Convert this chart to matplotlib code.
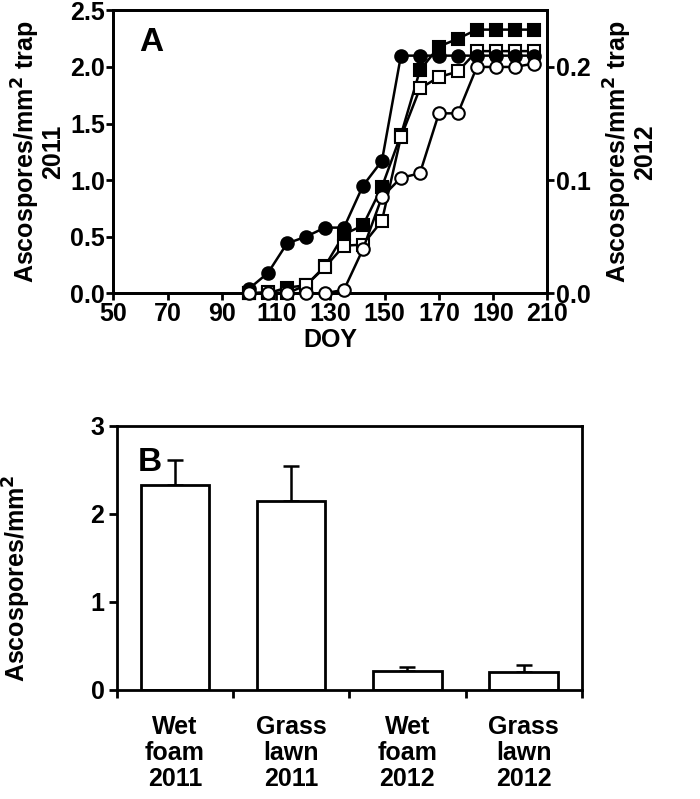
import numpy as np
import matplotlib.pyplot as plt
from matplotlib.ticker import FormatStrFormatter

plt.rcParams['font.family'] = ['Liberation Sans', 'DejaVu Sans']
plt.rcParams['font.weight'] = 'bold'

# panel A: cumulative ascospores, weekly sampling (DOY)
doy = [100, 107, 114, 121, 128, 135, 142, 149, 156, 163, 170, 177, 184, 191, 198, 205]
# 2011 (left axis)
wet_foam_2011 = [0.0, 0.0, 0.05, 0.07, 0.24, 0.52, 0.60, 0.94, 1.40, 1.97, 2.18, 2.25, 2.33, 2.33, 2.33, 2.33]
grass_lawn_2011 = [0.0, 0.01, 0.0, 0.07, 0.23, 0.42, 0.43, 0.64, 1.38, 1.81, 1.91, 1.96, 2.14, 2.14, 2.14, 2.14]
# 2012 (right axis)
wet_foam_2012 = [0.004, 0.018, 0.044, 0.050, 0.058, 0.058, 0.095, 0.117, 0.210, 0.210, 0.210, 0.210, 0.210, 0.210, 0.210, 0.210]
grass_lawn_2012 = [0.0, 0.0, 0.0, 0.0, 0.0, 0.003, 0.039, 0.085, 0.102, 0.106, 0.159, 0.159, 0.200, 0.200, 0.200, 0.203]

# panel B: totals
groups = ["Wet\nfoam\n2011", "Grass\nlawn\n2011", "Wet\nfoam\n2012", "Grass\nlawn\n2012"]
totals = [2.33, 2.14, 0.21, 0.20]
errors = [0.28, 0.40, 0.05, 0.08]

fs = 18
fig = plt.figure(figsize=(7, 7.99), dpi=100)

axA = fig.add_axes([0.162, 0.633, 0.620, 0.354])
axA2 = axA.twinx()

kw = dict(color='black', lw=1.8, ms=9, mew=1.5, mec='black', clip_on=False)
axA.plot(doy, wet_foam_2011, marker='s', mfc='black', zorder=3, **kw)
axA.plot(doy, grass_lawn_2011, marker='s', mfc='white', zorder=4, **kw)
axA2.plot(doy, wet_foam_2012, marker='o', mfc='black', zorder=5, **kw)
axA2.plot(doy, grass_lawn_2012, marker='o', mfc='white', zorder=6, **kw)

axA.set_xlim(50, 210)
axA.set_ylim(0, 2.5)
axA2.set_ylim(0, 0.25)
axA.set_xticks(np.arange(50, 211, 20))
axA.set_yticks(np.arange(0, 2.51, 0.5))
axA2.set_yticks([0, 0.1, 0.2])
axA.yaxis.set_major_formatter(FormatStrFormatter('%.1f'))
axA2.yaxis.set_major_formatter(FormatStrFormatter('%.1f'))
axA.set_xlabel("DOY", fontsize=fs, fontweight='bold', labelpad=2)
axA.set_ylabel("Ascospores/mm$^\\mathbf{2}$ trap\n2011", fontsize=fs, fontweight='bold',
               linespacing=0.95, labelpad=4)
axA2.set_ylabel("Ascospores/mm$^\\mathbf{2}$ trap\n2012", fontsize=fs, fontweight='bold',
                linespacing=0.95, labelpad=8)
axA.text(0.06, 0.94, "A", transform=axA.transAxes, fontsize=24, fontweight='bold', va='top')

for ax in (axA, axA2):
    for sp in ax.spines.values():
        sp.set_linewidth(2)
    ax.tick_params(width=2, length=5, labelsize=fs, pad=1)

axB = fig.add_axes([0.167, 0.137, 0.664, 0.330])
x = np.arange(len(groups)) + 0.5
axB.bar(x, totals, width=0.59, color='white', edgecolor='black', linewidth=2, zorder=2)
axB.errorbar(x, totals, yerr=[np.zeros(len(errors)), errors], fmt='none', ecolor='black',
             elinewidth=1.8, capsize=6, capthick=1.8, zorder=1)
axB.set_xlim(0, 4)
axB.set_ylim(0, 3)
axB.set_yticks([0, 1, 2, 3])
axB.set_xticks([0, 1, 2, 3, 4])
axB.set_xticklabels([])
axB.set_xticks(x, minor=True)
axB.set_xticklabels(groups, minor=True, fontsize=fs, fontweight='bold', linespacing=1.12)
axB.tick_params(axis='x', which='minor', length=0, pad=18)
axB.tick_params(axis='both', which='major', width=2, length=6, labelsize=fs, pad=3)
axB.set_ylabel("Ascospores/mm$^\\mathbf{2}$", fontsize=fs, fontweight='bold')
axB.yaxis.set_label_coords(-0.18, 0.42)
axB.text(0.045, 0.92, "B", transform=axB.transAxes, fontsize=24, fontweight='bold', va='top')
for sp in axB.spines.values():
    sp.set_linewidth(2)

fig.savefig("out.png", dpi=100)
